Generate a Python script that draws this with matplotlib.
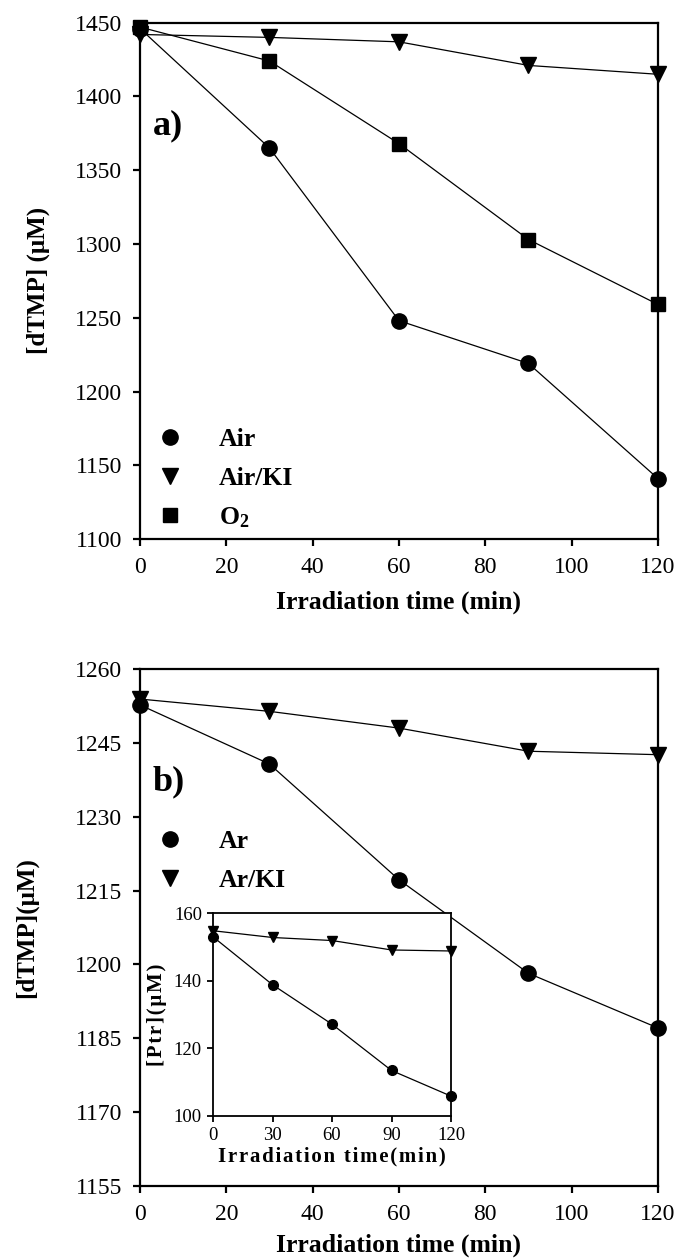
import matplotlib
matplotlib.use("Agg")
import matplotlib.pyplot as plt
from matplotlib.lines import Line2D

plt.rcParams["font.family"] = ["Liberation Serif", "DejaVu Serif"]
plt.rcParams["mathtext.fontset"] = "custom"
plt.rcParams["mathtext.rm"] = "Liberation Serif"
plt.rcParams["mathtext.bf"] = "Liberation Serif:bold"

# panel a) data
time = [0, 30, 60, 90, 120]
air = [1446, 1365, 1248, 1219, 1141]
air_ki = [1442, 1440, 1437, 1421, 1415]
o2 = [1447, 1424, 1368, 1303, 1259]

# panel b) data
ar = [1252.7, 1240.7, 1217.2, 1198.2, 1187.1]
ar_ki = [1253.9, 1251.4, 1248.0, 1243.3, 1242.6]

# inset data (Ptr)
ptr_ar = [153.0, 138.8, 127.1, 113.4, 105.8]
ptr_ar_ki = [154.8, 152.8, 151.9, 149.1, 148.8]

fig = plt.figure(figsize=(6.75, 12.58), dpi=100)

line_kw = dict(color="black", lw=0.9, clip_on=False, markeredgecolor="black",
               markerfacecolor="black")


def style(ax, size=17, lw=1.6, pad=8):
    for s in ax.spines.values():
        s.set_linewidth(lw)
    ax.tick_params(direction="out", length=5, width=lw, labelsize=size,
                   top=False, right=False, pad=pad)


def spaced(s):
    # the inset labels are letter-spaced in the original
    return "\u200a".join(s)


leg_kw = dict(frameon=False, handlelength=1.2, handletextpad=1.3,
              labelspacing=0.6, borderaxespad=0.5,
              prop=dict(size=18.5, weight="bold"))

# ---- panel a ----
ax1 = fig.add_axes([0.2074, 0.5715, 0.7674, 0.4105])
ax1.plot(time, air, marker="o", ms=11, **line_kw)
ax1.plot(time, air_ki, marker="v", ms=11, **line_kw)
ax1.plot(time, o2, marker="s", ms=10, **line_kw)
ax1.set_xlim(0, 120)
ax1.set_ylim(1100, 1450)
ax1.set_xticks(range(0, 121, 20))
ax1.set_yticks(range(1100, 1451, 50))
style(ax1)
ax1.set_xlabel("Irradiation time (min)", fontsize=18.5, fontweight="bold", labelpad=9)
ax1.set_ylabel("[dTMP] (\u03bcM)", fontsize=18, fontweight="bold", labelpad=18)
ax1.text(0.025, 0.80, "a)", transform=ax1.transAxes, fontsize=26,
         fontweight="bold", va="center")
h1 = [Line2D([], [], ls="none", marker=m, color="black", ms=s)
      for m, s in [("o", 11), ("v", 11), ("s", 10)]]
ax1.legend(h1, ["Air", "Air/KI", r"$\mathbf{O_2}$"], loc="center left",
           bbox_to_anchor=(-0.016, 0.116), **leg_kw)

# ---- panel b ----
ax2 = fig.add_axes([0.2074, 0.0572, 0.7674, 0.411])
ax2.plot(time, ar, marker="o", ms=11, **line_kw)
ax2.plot(time, ar_ki, marker="v", ms=11, **line_kw)
ax2.set_xlim(0, 120)
ax2.set_ylim(1155, 1260)
ax2.set_xticks(range(0, 121, 20))
ax2.set_yticks(range(1155, 1261, 15))
style(ax2)
ax2.set_xlabel("Irradiation time (min)", fontsize=18.5, fontweight="bold", labelpad=6)
ax2.set_ylabel("[dTMP](\u03bcM)", fontsize=18, fontweight="bold", labelpad=26)
ax2.text(0.025, 0.782, "b)", transform=ax2.transAxes, fontsize=26,
         fontweight="bold", va="center")
h2 = [Line2D([], [], ls="none", marker=m, color="black", ms=s)
      for m, s in [("o", 11), ("v", 11)]]
ax2.legend(h2, ["Ar", "Ar/KI"], loc="center left",
           bbox_to_anchor=(-0.016, 0.629), **leg_kw)

# ---- inset ----
ax3 = fig.add_axes([0.3156, 0.1131, 0.3526, 0.161])
ax3.set_facecolor("white")
ax3.plot(time, ptr_ar, marker="o", ms=7, **line_kw)
ax3.plot(time, ptr_ar_ki, marker="v", ms=7.5, **line_kw)
ax3.set_xlim(0, 120)
ax3.set_ylim(100, 160)
ax3.set_xticks(range(0, 121, 30))
ax3.set_yticks(range(100, 161, 20))
style(ax3, size=13.5, lw=1.3, pad=4)
ax3.tick_params(length=4)
ax3.set_xlabel(spaced("Irradiation time(min)"), fontsize=15, fontweight="bold",
               labelpad=2)
ax3.set_ylabel(spaced("[Ptr](\u03bcM)"), fontsize=15, fontweight="bold", labelpad=5)

fig.savefig("out.png", dpi=100)
